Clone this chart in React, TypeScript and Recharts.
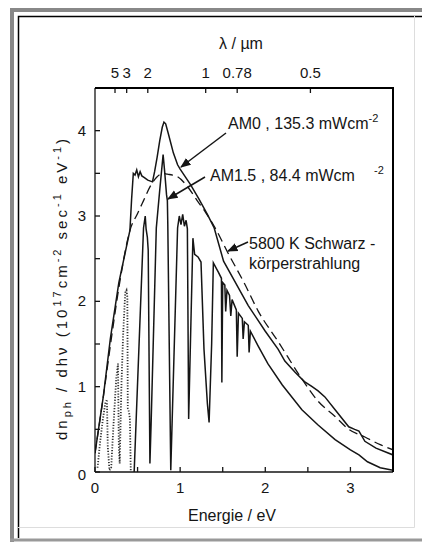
import { ComposedChart, Line, XAxis, YAxis } from "recharts";

// Werte (Energie in eV, Fluss in 1e17 cm-2 s-1 eV-1)
const am0Energy = [0, 0.1, 0.18, 0.28, 0.41, 0.43, 0.45, 0.47, 0.49, 0.51, 0.53, 0.55, 0.58, 0.62, 0.675, 0.7, 0.73, 0.76, 0.79, 0.81, 0.83, 0.86, 0.92, 0.97, 1.0, 1.12, 1.22, 1.32, 1.4, 1.51, 1.65, 1.8, 2.0, 2.15, 2.23, 2.35, 2.46, 2.55, 2.62, 2.7, 2.82, 2.98, 3.05, 3.1, 3.17, 3.3, 3.5];
const am0Flux = [0.22, 0.9, 1.56, 2.22, 2.83, 3.2, 3.5, 3.48, 3.54, 3.46, 3.52, 3.47, 3.45, 3.42, 3.4, 3.52, 3.69, 3.88, 4.04, 4.1, 4.08, 3.97, 3.74, 3.6, 3.55, 3.37, 3.2, 3.02, 2.86, 2.47, 2.22, 1.95, 1.65, 1.44, 1.3, 1.17, 1.06, 1.0, 0.95, 0.88, 0.73, 0.53, 0.5, 0.48, 0.36, 0.28, 0.2];

const am15Energy = [0.46, 0.57, 0.59, 0.6, 0.615, 0.625, 0.645, 0.66, 0.72, 0.76, 0.8, 0.82, 0.84, 0.85, 0.855, 0.89, 0.97, 0.99, 1.01, 1.03, 1.05, 1.07, 1.085, 1.1, 1.13, 1.15, 1.17, 1.21, 1.245, 1.28, 1.32, 1.34, 1.37, 1.39, 1.45, 1.485, 1.49, 1.5, 1.525, 1.535, 1.55, 1.58, 1.595, 1.61, 1.66, 1.67, 1.685, 1.73, 1.74, 1.755, 1.8, 1.81, 1.825, 1.92, 2.03, 2.2, 2.43, 2.62, 2.82, 3.0, 3.1, 3.2, 3.35, 3.5];
const am15Flux = [0.0, 2.86, 3.0, 2.85, 2.75, 2.6, 0.1, 0.6, 2.86, 3.3, 3.72, 3.5, 3.25, 3.18, 2.9, 0.02, 2.86, 3.0, 2.9, 3.02, 2.88, 2.95, 2.85, 0.62, 1.9, 2.74, 2.55, 2.52, 2.46, 1.44, 0.8, 0.58, 1.5, 2.45, 2.34, 2.27, 1.05, 2.22, 2.19, 1.88, 2.13, 2.07, 1.83, 2.02, 1.9, 1.35, 1.86, 1.8, 1.56, 1.76, 1.72, 1.4, 1.65, 1.47, 1.27, 1.02, 0.73, 0.55, 0.38, 0.26, 0.2, 0.12, 0.05, 0.02];

const infraredEnergy = [0.03, 0.06, 0.09, 0.12, 0.14, 0.15, 0.17, 0.19, 0.22, 0.25, 0.27, 0.28, 0.29, 0.31, 0.33, 0.355, 0.37, 0.38, 0.385, 0.4, 0.41, 0.42];
const infraredFlux = [0.05, 0.35, 0.6, 0.8, 0.85, 0.3, 0.02, 0.05, 0.6, 1.1, 1.27, 0.3, 0.1, 1.0, 1.6, 2.1, 2.13, 2.05, 0.75, 0.7, 0.62, 0.02];

const blackbodyEnergy = [0, 0.1, 0.2, 0.3, 0.41, 0.5, 0.57, 0.65, 0.73, 0.8, 0.85, 0.91, 0.97, 1.09, 1.2, 1.3, 1.4, 1.56, 1.75, 1.92, 2.15, 2.43, 2.62, 2.82, 2.98, 3.17, 3.35, 3.5];
const blackbodyFlux = [0.22, 0.9, 1.62, 2.28, 2.83, 3.03, 3.18, 3.35, 3.46, 3.5, 3.49, 3.48, 3.46, 3.34, 3.18, 3.04, 2.88, 2.57, 2.22, 1.88, 1.53, 1.09, 0.83, 0.65, 0.5, 0.41, 0.32, 0.26];

const energyTicks = [0, 0.5, 1, 1.5, 2, 2.5, 3];
const fluxTicks = [0, 0.5, 1, 1.5, 2, 2.5, 3, 3.5, 4];
const lambdaTickEnergy = [0.235, 0.372, 0.62, 1.3, 1.67, 2.53];
const lambdaTickLabels = ["5", "3", "2", "1", "0.78", "0.5"];

const toPoints = (es: number[], ys: number[]) => es.map((e, i) => ({ e, y: ys[i] }));

const FONT = "'Liberation Sans', Arial, Helvetica, sans-serif";
const INK = "#151515";
const TICK_LEN = 5;

// Layout: Ränder + Achsenbreiten ergeben den Plotkasten
const W = 422;
const H = 542;
const MARGIN = { top: 58, right: 29, bottom: 40, left: 65 };
const AXIS_H = 30;
const AXIS_W = 30;
const BOX = {
  left: MARGIN.left + AXIS_W,
  top: MARGIN.top + AXIS_H,
  right: W - MARGIN.right,
  bottom: H - MARGIN.bottom - AXIS_H,
};

// Ticks nach innen, Beschriftung außen
const BottomTick = (props: any) => {
  const { x, y, payload } = props;
  const v = payload.value as number;
  return (
    <g>
      <line x1={x} x2={x} y1={y} y2={y - TICK_LEN} stroke={INK} strokeWidth={1.3} />
      {Number.isInteger(v) && (
        <text x={x} y={y + 21} textAnchor="middle" fontSize={15} fontFamily={FONT} fill={INK}>{v}</text>
      )}
    </g>
  );
};

const TopTick = (props: any) => {
  const { x, y, payload } = props;
  const i = lambdaTickEnergy.indexOf(payload.value);
  return (
    <g>
      <line x1={x} x2={x} y1={y} y2={y + TICK_LEN} stroke={INK} strokeWidth={1.3} />
      <text x={x} y={y - 10} textAnchor="middle" fontSize={15} fontFamily={FONT} fill={INK}>{lambdaTickLabels[i]}</text>
    </g>
  );
};

const LeftTick = (props: any) => {
  const { x, y, payload } = props;
  const v = payload.value as number;
  return (
    <g>
      <line x1={x} x2={x + TICK_LEN} y1={y} y2={y} stroke={INK} strokeWidth={1.3} />
      {Number.isInteger(v) && (
        <text x={x - 9} y={y + (v === 0 ? 8 : 5)} textAnchor="end" fontSize={15} fontFamily={FONT} fill={INK}>{v}</text>
      )}
    </g>
  );
};

const App = () => {
  return (
    <div style={{ position: "absolute", left: 0, top: 0, width: W, height: H, background: "#fff" }}>
      <svg width={W} height={H} style={{ position: "absolute", left: 0, top: 0 }} fontFamily={FONT}>
        <defs>
          <marker id="ah" viewBox="0 0 10 10" refX="9" refY="5" markerWidth="7" markerHeight="7" orient="auto">
            <path d="M0,1 L10,5 L0,9 z" fill={INK} />
          </marker>
        </defs>
        {/* Rahmen */}
        <path d="M12 542 V10 H422" stroke="#888" strokeWidth={4} fill="none" />
        <path d="M10 540 H422" stroke="#999" strokeWidth={3} fill="none" />
        <path d="M18.5 538 V16.5 H422" stroke="#000" strokeWidth={1.5} fill="none" />
        <path d="M414.5 16 V527.5 H18" stroke="#ddd" strokeWidth={1} fill="none" />

        <text x={241} y={49} fontSize={16} textAnchor="middle" fill={INK}>λ / µm</text>
        <text x={232} y={521} fontSize={16} textAnchor="middle" fill={INK}>Energie / eV</text>

        <text transform="translate(67 288) rotate(-90)" fontSize={15} textAnchor="middle" letterSpacing={3} fill={INK}>
          dn<tspan fontSize={11} dy={4}>ph</tspan>
          <tspan dy={-4}> / dhν  (10</tspan>
          <tspan fontSize={11} dy={-6}>17</tspan>
          <tspan dy={6}>cm</tspan>
          <tspan fontSize={11} dy={-6}>-2</tspan>
          <tspan dy={6}> sec</tspan>
          <tspan fontSize={11} dy={-6}>-1</tspan>
          <tspan dy={6}> eV</tspan>
          <tspan fontSize={11} dy={-6}>-1</tspan>
          <tspan dy={6}>)</tspan>
        </text>

        <text x={228} y={129} fontSize={16} fill={INK}>
          AM0 , 135.3 mWcm<tspan fontSize={11} dy={-7}>-2</tspan>
        </text>
        <text x={210} y={181} fontSize={16} fill={INK}>AM1.5 , 84.4 mWcm</text>
        <text x={374} y={174} fontSize={11} fill={INK}>-2</text>
        <text x={249} y={249} fontSize={16} fill={INK}>5800 K Schwarz -</text>
        <text x={249} y={269} fontSize={16} fill={INK}>körperstrahlung</text>

        <line x1={226} y1={133} x2={181} y2={167} stroke={INK} strokeWidth={1.5} markerEnd="url(#ah)" />
        <line x1={205} y1={177} x2={168} y2={199} stroke={INK} strokeWidth={1.5} markerEnd="url(#ah)" />
        <line x1={248} y1={242} x2={228} y2={251} stroke={INK} strokeWidth={1.5} markerEnd="url(#ah)" />
      </svg>

      <div style={{ position: "absolute", left: 0, top: 0 }}>
        <ComposedChart width={W} height={H} margin={MARGIN}>
          <XAxis
            xAxisId="b"
            dataKey="e"
            type="number"
            domain={[0, 3.5]}
            ticks={energyTicks}
            interval={0}
            height={AXIS_H}
            tickSize={0}
            tickMargin={0}
            tickLine={false}
            stroke={INK}
            strokeWidth={1.3}
            tick={<BottomTick />}
            allowDataOverflow
          />
          <XAxis
            xAxisId="t"
            orientation="top"
            dataKey="e"
            type="number"
            domain={[0, 3.5]}
            ticks={lambdaTickEnergy}
            interval={0}
            height={AXIS_H}
            tickSize={0}
            tickMargin={0}
            tickLine={false}
            stroke={INK}
            strokeWidth={1.3}
            tick={<TopTick />}
            allowDataOverflow
          />
          <YAxis
            yAxisId="l"
            type="number"
            domain={[0, 4.5]}
            ticks={fluxTicks}
            interval={0}
            width={AXIS_W}
            tickSize={0}
            tickMargin={0}
            tickLine={false}
            stroke={INK}
            strokeWidth={1.3}
            tick={<LeftTick />}
            allowDataOverflow
          />
          <Line xAxisId="b" yAxisId="l" data={toPoints(infraredEnergy, infraredFlux)} dataKey="y" type="linear"
            stroke="#333" strokeWidth={1.8} strokeDasharray="1.2 1.6" dot={false} isAnimationActive={false} />
          <Line xAxisId="t" yAxisId="l" data={toPoints(blackbodyEnergy, blackbodyFlux)} dataKey="y" type="monotone"
            stroke={INK} strokeWidth={1.3} strokeDasharray="9 5" dot={false} isAnimationActive={false} />
          <Line xAxisId="b" yAxisId="l" data={toPoints(am0Energy, am0Flux)} dataKey="y" type="linear"
            stroke={INK} strokeWidth={1.5} dot={false} isAnimationActive={false} />
          <Line xAxisId="b" yAxisId="l" data={toPoints(am15Energy, am15Flux)} dataKey="y" type="linear"
            stroke={INK} strokeWidth={1.5} dot={false} isAnimationActive={false} />
        </ComposedChart>
      </div>

      {/* Plotkasten obenauf, damit ihn nichts verdeckt */}
      <svg width={W} height={H} style={{ position: "absolute", left: 0, top: 0, pointerEvents: "none", zIndex: 5 }}>
        <path
          d={`M${BOX.left} ${BOX.top} H${BOX.right} V${BOX.bottom}`}
          fill="none"
          stroke="#000"
          strokeWidth={2}
        />
      </svg>
    </div>
  );
};

export default App;
